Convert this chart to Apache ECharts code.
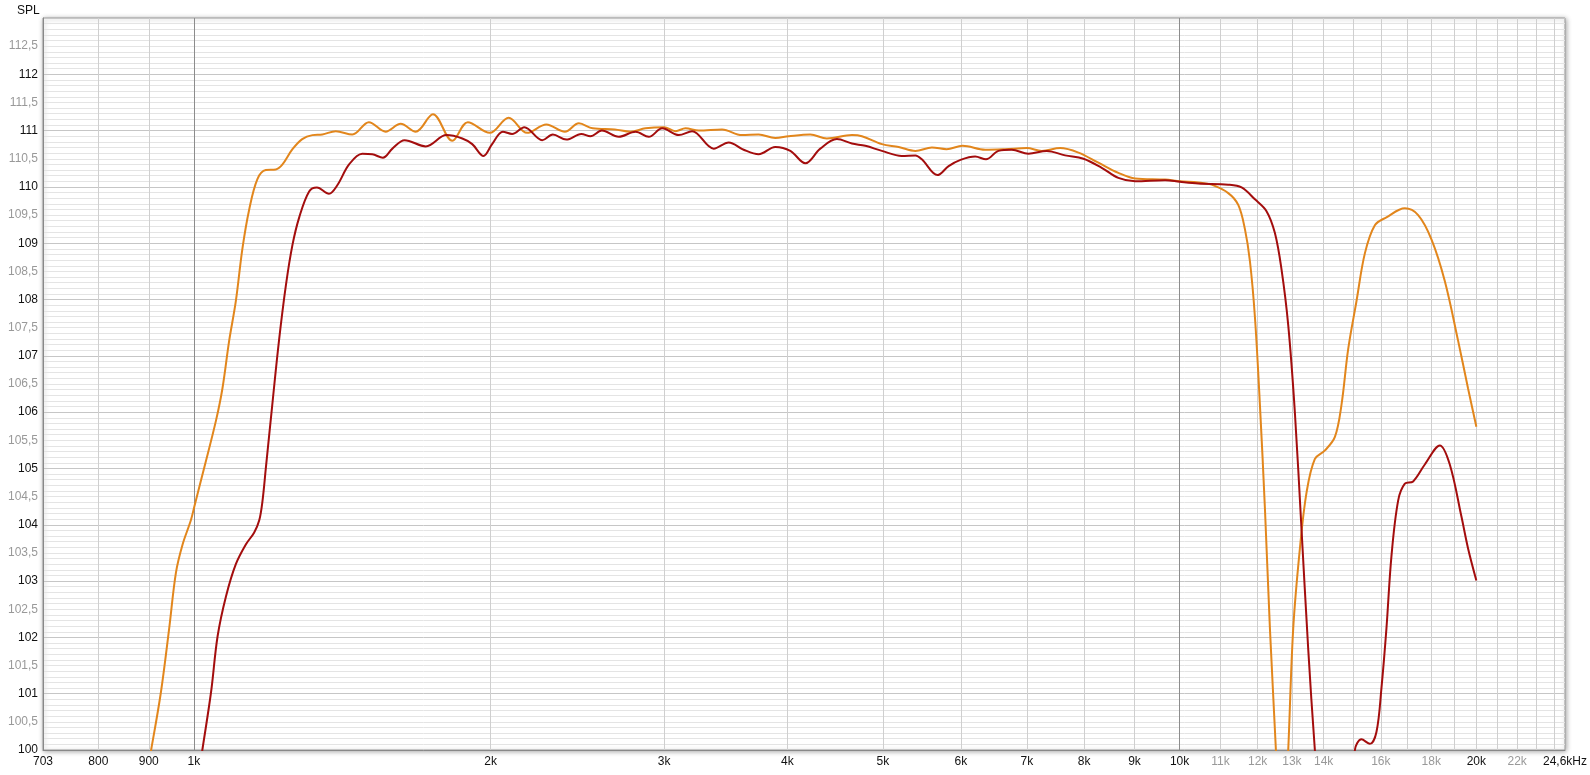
<!DOCTYPE html>
<html>
<head>
<meta charset="utf-8">
<title>SPL</title>
<script src="https://cdn.jsdelivr.net/npm/echarts@6.0.0/dist/echarts.min.js"></script>
<style>
  html, body { margin: 0; padding: 0; background: #fff; }
  #chart { width: 1590px; height: 775px; }
</style>
</head>
<body>
<div id="chart"></div>
<script>
// frequency range of the x axis (Hz)
var freqMin = 703;
var freqMax = 24600;

// vertical grid lines
var gridFreqs = [800, 900, 1000, 2000, 3000, 4000, 5000, 6000, 7000, 8000, 9000, 10000,
  11000, 12000, 13000, 14000, 15000, 16000, 17000, 18000, 19000, 20000, 21000, 22000, 23000, 24000];
var darkFreqs = [1000, 10000];

// x tick labels
var xLabelFreqs = [703, 800, 900, 1000, 2000, 3000, 4000, 5000, 6000, 7000, 8000, 9000, 10000,
  11000, 12000, 13000, 14000, 16000, 18000, 20000, 22000, 24600];
var xLabelText = ['703', '800', '900', '1k', '2k', '3k', '4k', '5k', '6k', '7k', '8k', '9k', '10k',
  '11k', '12k', '13k', '14k', '16k', '18k', '20k', '22k', '24,6kHz'];
var xLabelGrey = ['11k', '12k', '13k', '14k', '16k', '18k', '22k'];

// orange curve
var orangeFreq = [880, 905, 926, 944, 959, 974, 993, 1001, 1024, 1053, 1069, 1086, 1103, 1120, 1138, 1160,
  1183, 1211, 1230, 1259, 1288, 1319, 1350, 1393, 1448, 1505, 1565, 1621, 1679, 1748, 1829, 1896, 1996,
  2086, 2178, 2278, 2379, 2458, 2539, 2673, 2773, 2872, 2998, 3081, 3153, 3253, 3434, 3597, 3740, 3889,
  4012, 4220, 4387, 4651, 4761, 4989, 5188, 5394, 5607, 5802, 6022, 6351, 6654, 6998, 7247, 7565, 7895,
  8272, 8667, 9012, 9666, 10009, 10446, 10776, 11203, 11468, 11648, 11785, 11923, 12063, 12205, 12348,
  12522, 12700, 12888, 13039, 13244, 13450, 13716, 14040, 14372, 14595, 14825, 15115, 15414, 15778,
  16211, 16923, 17457, 18008, 18578, 19164, 19616, 20000];
var orangeSpl = [98.8, 100.0, 101.03, 102.16, 103.15, 103.65, 104.08, 104.32, 105.0, 105.85, 106.42, 107.27,
  107.97, 108.9, 109.6, 110.14, 110.3, 110.31, 110.4, 110.67, 110.85, 110.92, 110.93, 110.99, 110.93, 111.15,
  110.98, 111.12, 110.98, 111.29, 110.82, 111.15, 110.96, 111.23, 110.96, 111.11, 110.98, 111.13, 111.04,
  111.02, 110.98, 111.04, 111.06, 110.99, 111.04, 111.0, 111.02, 110.92, 110.93, 110.87, 110.9, 110.93,
  110.86, 110.92, 110.9, 110.76, 110.71, 110.64, 110.7, 110.67, 110.73, 110.66, 110.67, 110.69, 110.64,
  110.69, 110.61, 110.43, 110.25, 110.15, 110.13, 110.1, 110.08, 110.04, 109.89, 109.68, 109.25, 108.68,
  107.69, 106.13, 104.29, 102.16, 100.0, 97.6, 100.0, 102.16, 103.58, 104.57, 105.17, 105.32, 105.56,
  106.13, 107.12, 107.97, 108.82, 109.32, 109.46, 109.62, 109.5, 109.07, 108.33, 107.27, 106.42, 105.74];

// dark red curve
var redFreq = [1000, 1020, 1041, 1057, 1078, 1103, 1129, 1151, 1165, 1174, 1183, 1201, 1220, 1240, 1259, 1279,
  1309, 1333, 1371, 1398, 1437, 1482, 1517, 1555, 1590, 1636, 1719, 1804, 1872, 1916, 1967, 2007, 2058,
  2103, 2164, 2256, 2313, 2387, 2472, 2525, 2593, 2698, 2806, 2894, 2986, 3104, 3202, 3368, 3488, 3612,
  3740, 3889, 4028, 4172, 4320, 4491, 4651, 4799, 4988, 5226, 5394, 5477, 5680, 5830, 5994, 6203, 6362,
  6550, 6756, 7025, 7332, 7653, 7988, 8336, 8667, 9012, 9666, 10009, 10446, 11202, 11557, 11923, 12250,
  12493, 12686, 12887, 13090, 13293, 13502, 13715, 14349, 15059, 15292, 15595, 15837, 16023, 16211,
  16401, 16660, 16923, 17254, 17731, 18364, 18797, 19312, 19616, 20000];
var redSpl = [99.0, 100.0, 101.03, 102.02, 102.73, 103.3, 103.65, 103.86, 104.08, 104.43, 105.0, 106.13, 107.27,
  108.26, 108.97, 109.46, 109.92, 109.99, 109.88, 110.03, 110.4, 110.59, 110.58, 110.52, 110.68, 110.83,
  110.72, 110.92, 110.86, 110.76, 110.55, 110.76, 110.98, 110.94, 111.06, 110.83, 110.93, 110.84, 110.94,
  110.9, 111.0, 110.89, 110.98, 110.89, 111.04, 110.92, 110.99, 110.68, 110.79, 110.66, 110.58, 110.71,
  110.64, 110.42, 110.68, 110.85, 110.77, 110.73, 110.64, 110.55, 110.56, 110.49, 110.21, 110.37, 110.48,
  110.54, 110.49, 110.64, 110.66, 110.59, 110.64, 110.56, 110.5, 110.34, 110.16, 110.1, 110.12, 110.09,
  110.06, 110.04, 109.99, 109.78, 109.57, 109.18, 108.54, 107.55, 105.99, 103.93, 101.81, 100.0, 95.5,
  100.0, 100.19, 100.11, 100.32, 101.1, 102.16, 103.44, 104.43, 104.73, 104.77, 105.07, 105.41, 105.07,
  104.15, 103.58, 103.01];

var FONT = 'Liberation Sans, Arial, sans-serif';
var lg = function (f) { return Math.log10(f); };
var toPoints = function (fs, vs) { return fs.map(function (f, i) { return [lg(f), vs[i]]; }); };

var chart = echarts.init(document.getElementById('chart'));

var option = {
  backgroundColor: '#fff',
  animation: false,
  title: {
    text: 'SPL',
    left: 12,
    top: 0,
    textStyle: { fontFamily: FONT, fontSize: 12, fontWeight: 'normal', color: '#111' }
  },
  grid: {
    left: 43, right: 22, top: 18, bottom: 25,
    show: true,
    backgroundColor: '#fff',
    borderColor: '#9a9a9a',
    borderWidth: 1,
    shadowBlur: 5,
    shadowColor: 'rgba(0,0,0,0.35)',
    shadowOffsetX: 1,
    shadowOffsetY: 1
  },
  xAxis: [
    {
      type: 'value',
      min: lg(freqMin),
      max: lg(freqMax),
      axisLine: { show: true, lineStyle: { color: '#888', width: 1 } },
      axisTick: { show: false, customValues: gridFreqs.map(lg) },
      splitLine: { show: true, lineStyle: { color: '#cfcfcf', width: 1 } },
      axisLabel: {
        customValues: xLabelFreqs.map(lg),
        margin: 6,
        fontFamily: FONT,
        fontSize: 12,
        formatter: function (v) {
          var i = xLabelFreqs.findIndex(function (f) { return Math.abs(lg(f) - v) < 1e-6; });
          return i >= 0 ? xLabelText[i] : '';
        },
        color: function (v, idx) {
          return xLabelGrey.indexOf(xLabelText[idx]) >= 0 ? '#999' : '#111';
        }
      }
    },
    {
      // darker lines at 1k and 10k
      type: 'value',
      position: 'top',
      min: lg(freqMin),
      max: lg(freqMax),
      axisLine: { show: false },
      axisTick: { show: false, customValues: darkFreqs.map(lg) },
      axisLabel: { show: false },
      splitLine: { show: true, lineStyle: { color: '#8c8c8c', width: 1 } }
    }
  ],
  yAxis: {
    type: 'value',
    min: 100,
    max: 113,
    interval: 0.5,
    axisLine: { show: true, lineStyle: { color: '#888' } },
    axisTick: { show: false },
    minorTick: { show: false, splitNumber: 5 },
    minorSplitLine: { show: true, lineStyle: { color: '#e4e4e4', width: 1 } },
    splitLine: { show: true, lineStyle: { color: ['#c6c6c6', '#e4e4e4'], width: 1 } },
    axisLabel: {
      margin: 5,
      fontFamily: FONT,
      fontSize: 12,
      formatter: function (v) {
        if (v >= 113) return '';
        return String(v).replace('.', ',');
      },
      color: function (v) {
        return parseFloat(v) % 1 === 0 ? '#111' : '#999';
      }
    }
  },
  series: [
    {
      name: 'orange',
      type: 'line',
      data: toPoints(orangeFreq, orangeSpl),
      smooth: 0.35,
      showSymbol: false,
      clip: true,
      lineStyle: { color: '#e2861c', width: 2 },
      z: 3
    },
    {
      name: 'red',
      type: 'line',
      data: toPoints(redFreq, redSpl),
      smooth: 0.35,
      showSymbol: false,
      clip: true,
      lineStyle: { color: '#a30d0d', width: 2 },
      z: 4
    }
  ]
};

chart.setOption(option);
</script>
</body>
</html>
